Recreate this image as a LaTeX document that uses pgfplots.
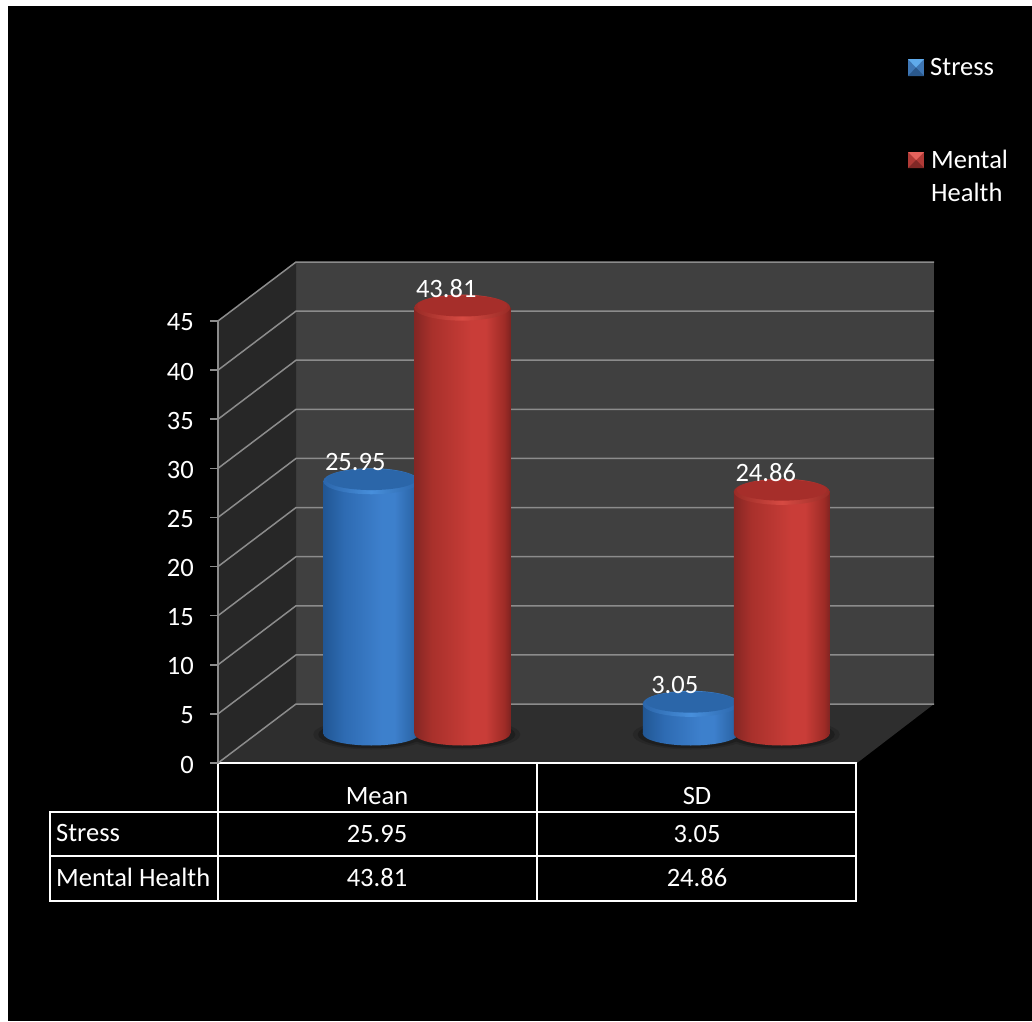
\documentclass[border=0pt]{standalone}
\usepackage{pgfplots}
\pgfplotsset{compat=1.18}
\usepackage{fontspec}
\setmainfont{Carlito}

\definecolor{backwall}{HTML}{404040}
\definecolor{sidewall}{HTML}{272727}
\definecolor{floorcol}{HTML}{2E2E2E}
\definecolor{gridcol}{HTML}{8C8C8C}
\definecolor{bluetop}{HTML}{2B66A9}
\definecolor{redtop}{HTML}{A62E2A}
\definecolor{shadowout}{HTML}{272727}
\definecolor{shadowin}{HTML}{1E1E1E}

% cylinder bodies: dark edges, a bright band a little right of the middle
\pgfdeclarehorizontalshading{cylblue}{100bp}{
  rgb(0bp)=(0.13,0.34,0.58); rgb(25bp)=(0.13,0.34,0.58); rgb(36bp)=(0.18,0.42,0.70); rgb(55bp)=(0.24,0.50,0.80);
  rgb(62bp)=(0.24,0.50,0.80); rgb(72bp)=(0.17,0.40,0.66); rgb(75bp)=(0.13,0.33,0.56); rgb(100bp)=(0.13,0.33,0.56)}
\pgfdeclarehorizontalshading{cylred}{100bp}{
  rgb(0bp)=(0.52,0.15,0.14); rgb(25bp)=(0.52,0.15,0.14); rgb(34bp)=(0.66,0.19,0.17); rgb(55bp)=(0.79,0.24,0.22);
  rgb(62bp)=(0.79,0.24,0.22); rgb(72bp)=(0.62,0.17,0.15); rgb(75bp)=(0.50,0.14,0.13); rgb(100bp)=(0.50,0.14,0.13)}
\pgfdeclarehorizontalshading{rimblue}{100bp}{
  rgb(0bp)=(0.17,0.40,0.67); rgb(25bp)=(0.17,0.40,0.67); rgb(50bp)=(0.28,0.56,0.86); rgb(75bp)=(0.17,0.40,0.67); rgb(100bp)=(0.17,0.40,0.67)}
\pgfdeclarehorizontalshading{rimred}{100bp}{
  rgb(0bp)=(0.60,0.17,0.15); rgb(25bp)=(0.60,0.17,0.15); rgb(50bp)=(0.84,0.29,0.26); rgb(75bp)=(0.60,0.17,0.15); rgb(100bp)=(0.60,0.17,0.15)}

% plot marks for the round ends of the cylinders
\pgfdeclareplotmark{baseblue}{\pgfpathellipse{\pgfpointorigin}{\pgfqpoint{48pt}{0pt}}{\pgfqpoint{0pt}{12pt}}\pgfshadepath{cylblue}{0}\pgfusepath{discard}}
\pgfdeclareplotmark{basered}{\pgfpathellipse{\pgfpointorigin}{\pgfqpoint{48pt}{0pt}}{\pgfqpoint{0pt}{12pt}}\pgfshadepath{cylred}{0}\pgfusepath{discard}}
\pgfdeclareplotmark{rimblue}{\pgfpathellipse{\pgfpointorigin}{\pgfqpoint{48pt}{0pt}}{\pgfqpoint{0pt}{13pt}}\pgfshadepath{rimblue}{0}\pgfusepath{discard}%
  \pgfpathellipse{\pgfqpoint{0pt}{1.8pt}}{\pgfqpoint{45pt}{0pt}}{\pgfqpoint{0pt}{10.6pt}}\pgfsetfillcolor{bluetop}\pgfusepath{fill}}
\pgfdeclareplotmark{rimred}{\pgfpathellipse{\pgfpointorigin}{\pgfqpoint{48pt}{0pt}}{\pgfqpoint{0pt}{13pt}}\pgfshadepath{rimred}{0}\pgfusepath{discard}%
  \pgfpathellipse{\pgfqpoint{0pt}{1.8pt}}{\pgfqpoint{45pt}{0pt}}{\pgfqpoint{0pt}{10.6pt}}\pgfsetfillcolor{redtop}\pgfusepath{fill}}
\pgfdeclareplotmark{shadowa}{\pgfpathellipse{\pgfpointorigin}{\pgfqpoint{58pt}{0pt}}{\pgfqpoint{0pt}{15pt}}\pgfusepath{fill}}
\pgfdeclareplotmark{shadowb}{\pgfpathellipse{\pgfpointorigin}{\pgfqpoint{53pt}{0pt}}{\pgfqpoint{0pt}{13.5pt}}\pgfusepath{fill}}

\newcommand{\chartfont}{\fontsize{26.5}{30}\selectfont}

\pgfplotsset{
  overlaid/.style={scale only axis, clip=false, anchor=south west},
  cylinders/.style={overlaid, at={(257pt,287.5pt)}, width=639pt, height=437.4pt,
    xmin=-0.5, xmax=1.5, ymin=0, ymax=45, hide axis},
  valuelabel/.style={nodes near coords, point meta=explicit symbolic,
    every node near coord/.append style={text=white, font=\chartfont, inner sep=0pt, anchor=center, xshift=-16pt, yshift=19pt}},
}

\begin{document}
\begin{tikzpicture}

% canvas in pixel units: background, walls, floor, data table and key
\begin{axis}[overlaid, at={(0pt,0pt)}, width=1032pt, height=1021pt,
  xmin=0, xmax=1032, ymin=0, ymax=1021, y dir=reverse, hide axis]
  \fill[white] (axis cs:0,0) rectangle (axis cs:1032,1021);
  \fill[black] (axis cs:8,6) rectangle (axis cs:1032,1021);
  \fill[backwall] (axis cs:296,262) rectangle (axis cs:934,704);
  \fill[sidewall] (axis cs:218,321) -- (axis cs:296,262) -- (axis cs:296,704) -- (axis cs:218,763) -- cycle;
  \fill[floorcol] (axis cs:218,763) -- (axis cs:296,704) -- (axis cs:934,704) -- (axis cs:857,763) -- cycle;

  % data table
  \draw[white, line width=2pt, line cap=rect]
    (axis cs:218,763) -- (axis cs:856,763)
    (axis cs:50,812) -- (axis cs:856,812)
    (axis cs:50,856) -- (axis cs:856,856)
    (axis cs:50,901) -- (axis cs:856,901)
    (axis cs:50,812) -- (axis cs:50,901)
    (axis cs:218,763) -- (axis cs:218,901)
    (axis cs:537,763) -- (axis cs:537,901)
    (axis cs:856,763) -- (axis cs:856,901);
  \begin{scope}[every node/.style={text=white, font=\chartfont, inner sep=0pt}]
    \node at (axis cs:377,796) {Mean};
    \node at (axis cs:697,796) {SD};
    \node[anchor=west] at (axis cs:56,833) {Stress};
    \node[anchor=west] at (axis cs:56,877) {Mental Health};
    \node at (axis cs:377,834) {25.95};
    \node at (axis cs:697,834) {3.05};
    \node at (axis cs:377,878) {43.81};
    \node at (axis cs:697,878) {24.86};
    \node[anchor=west] at (axis cs:930,67) {Stress};
    \node[anchor=west] at (axis cs:931,159) {Mental};
    \node[anchor=west] at (axis cs:931,192) {Health};
  \end{scope}

  % bevelled key swatches
  \fill[fill={rgb,255:red,62;green,118;blue,180}] (axis cs:908,59) rectangle (axis cs:924,76);
  \fill[fill={rgb,255:red,95;green,170;blue,235}] (axis cs:908,59) -- (axis cs:924,59) -- (axis cs:916,67.5) -- cycle;
  \fill[fill={rgb,255:red,42;green,88;blue,140}] (axis cs:908,76) -- (axis cs:924,76) -- (axis cs:916,67.5) -- cycle;
  \fill[fill={rgb,255:red,176;green,58;blue,54}] (axis cs:908,152) rectangle (axis cs:924,168);
  \fill[fill={rgb,255:red,228;green,98;blue,92}] (axis cs:908,152) -- (axis cs:924,152) -- (axis cs:916,160) -- cycle;
  \fill[fill={rgb,255:red,128;green,40;blue,38}] (axis cs:908,168) -- (axis cs:924,168) -- (axis cs:916,160) -- cycle;
\end{axis}

% value axis on the front edge, with its gridlines running round the walls
\begin{axis}[overlaid, at={(218pt,258pt)}, width=639pt, height=442pt,
  xmin=0, xmax=639, ymin=0, ymax=45,
  axis x line=none, axis y line=left, axis line style={gridcol, line width=1.5pt, -},
  ytick={0,5,...,45}, tick align=outside, major tick length=8pt,
  ytick style={gridcol, line width=1.5pt},
  /pgf/number format/assume math mode=true,
  yticklabel style={text=white, font=\chartfont, inner sep=0pt, xshift=-16pt, yshift=-1.5pt}]
  \pgfplotsinvokeforeach{0,5,...,45}{
    \draw[gridcol, line width=1.5pt] (axis cs:0,#1) -- ++(78pt,59pt) -- ++(638pt,0pt);
  }
\end{axis}

% floor contact shadows and the lower ends of the cylinders
\begin{axis}[cylinders]
  \addplot[only marks, mark=shadowa, mark options={fill=shadowout, draw=none, xshift=-45.5pt, yshift=-1pt}] coordinates {(0,0) (1,0)};
  \addplot[only marks, mark=shadowa, mark options={fill=shadowout, draw=none, xshift=45.5pt, yshift=-1pt}] coordinates {(0,0) (1,0)};
  \addplot[only marks, mark=shadowb, mark options={fill=shadowin, draw=none, xshift=-45.5pt, yshift=-1pt}] coordinates {(0,0) (1,0)};
  \addplot[only marks, mark=shadowb, mark options={fill=shadowin, draw=none, xshift=45.5pt, yshift=-1pt}] coordinates {(0,0) (1,0)};
  \addplot[only marks, mark=baseblue, mark options={xshift=-45.5pt}] coordinates {(0,0) (1,0)};
  \addplot[only marks, mark=basered, mark options={xshift=45.5pt}] coordinates {(0,0) (1,0)};
\end{axis}

% Stress: sits behind the neighbouring Mental Health cylinder
\begin{axis}[cylinders]
  \addplot[ybar, bar width=96pt, bar shift=-45.5pt, draw=none, shade, shading=cylblue] coordinates {(0,25.95)};
  \addplot[ybar, bar width=96pt, bar shift=-45.5pt, draw=none, shade, shading=cylblue] coordinates {(1,3.05)};
  \addplot[only marks, mark=rimblue, mark options={xshift=-45.5pt}, valuelabel]
    coordinates {(0,25.95)[25.95] (1,3.05)[3.05]};
\end{axis}

% Mental Health
\begin{axis}[cylinders]
  \addplot[ybar, bar width=96pt, bar shift=45.5pt, draw=none, shade, shading=cylred] coordinates {(0,43.81)};
  \addplot[ybar, bar width=96pt, bar shift=45.5pt, draw=none, shade, shading=cylred] coordinates {(1,24.86)};
  \addplot[only marks, mark=rimred, mark options={xshift=45.5pt}, valuelabel]
    coordinates {(0,43.81)[43.81] (1,24.86)[24.86]};
\end{axis}

\end{tikzpicture}
\end{document}
